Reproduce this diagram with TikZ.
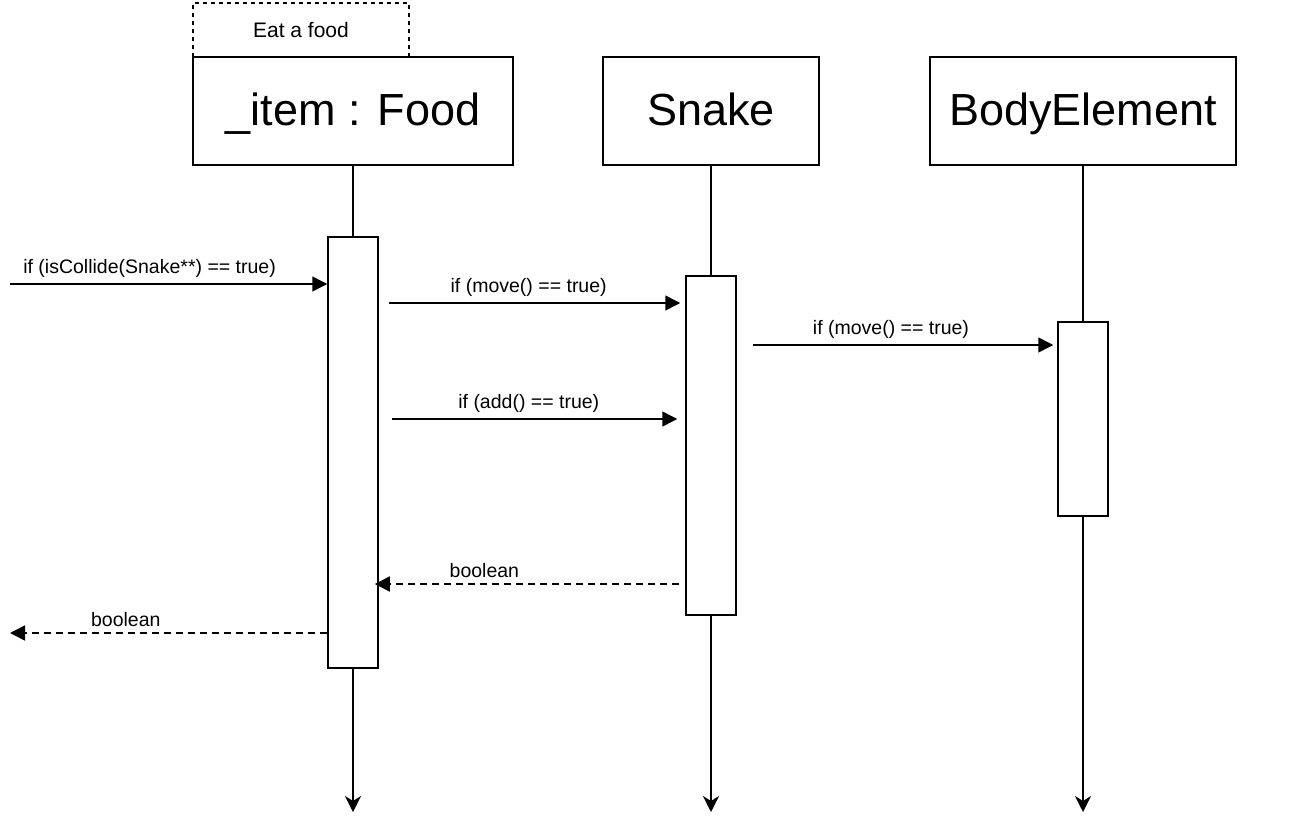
\documentclass[tikz,border=0pt]{standalone}
\usepackage{fontspec}
\setmainfont{Liberation Sans}
\usetikzlibrary{arrows.meta}

\begin{document}
\begin{tikzpicture}[x=1pt,y=-1pt,line width=1.5pt,
  objbox/.style={draw,rectangle,minimum height=108pt,text height=34pt,text depth=6pt,
    font=\fontsize{45}{54}\selectfont},
  barbox/.style={draw,rectangle,fill=white,minimum width=50pt},
  lbl/.style={font=\fontsize{19.5}{23}\selectfont,inner sep=0pt},
  msg/.style={-{Triangle[length=15pt,width=15pt]}},
  ret/.style={msg,dash pattern=on 7pt off 5pt},
  life/.style={-{Stealth[length=16pt,width=16pt,inset=5pt]}}]
\useasboundingbox (0,0) rectangle (1302,838) ;
\node [draw,dash pattern=on 4pt off 4pt,line width=1.2pt,minimum width=216pt,minimum height=54pt,
  font=\fontsize{21}{25}\selectfont] (eat) at (301,30) {Eat a food} ;
\node [objbox,minimum width=320pt] (food) at (353,111) {\_item : Food} ;
\node [objbox,minimum width=216pt] (snake) at (711,111) {Snake} ;
\node [objbox,minimum width=306pt] (body) at (1083,111) {BodyElement} ;
% lifelines
\coordinate (foodend) at (353,812) ;
\coordinate (snakeend) at (711,812) ;
\coordinate (bodyend) at (1083,812) ;
\draw [life] (food) -- (foodend) ;
\draw [life] (snake) -- (snakeend) ;
\draw [life] (body) -- (bodyend) ;
% activations
\node [barbox,minimum height=431pt] (foodbar) at (353,452.5) {} ;
\node [barbox,minimum height=339pt] (snakebar) at (711,445.5) {} ;
\node [barbox,minimum height=194pt] (bodybar) at (1083,419) {} ;
% messages
\coordinate (caller) at (10,284) ;
\coordinate (back) at (10,633) ;
\draw [msg] (caller) -- (foodbar.west |- caller)
  node [lbl,above=6pt,pos=0.44] {if (isCollide(Snake**) == true)} ;
\draw [msg] ([xshift=10pt]foodbar.east |- 0,303) -- ([xshift=-5pt]snakebar.west |- 0,303)
  node [lbl,above=6pt,pos=0.48] {if (move() == true)} ;
\draw [msg] ([xshift=16pt]snakebar.east |- 0,345) -- ([xshift=-4pt]bodybar.west |- 0,345)
  node [lbl,above=6pt,pos=0.46] {if (move() == true)} ;
\draw [msg] ([xshift=13pt]foodbar.east |- 0,419) -- ([xshift=-8pt]snakebar.west |- 0,419)
  node [lbl,above=6pt,pos=0.48] {if (add() == true)} ;
\draw [ret] ([xshift=-6pt]snakebar.west |- 0,584) -- ([xshift=-4pt]foodbar.east |- 0,584)
  node [lbl,above=6pt,pos=0.64] {boolean} ;
\draw [ret] (foodbar.west |- back) -- (back)
  node [lbl,above=6pt,pos=0.635] {boolean} ;
\end{tikzpicture}
\end{document}
